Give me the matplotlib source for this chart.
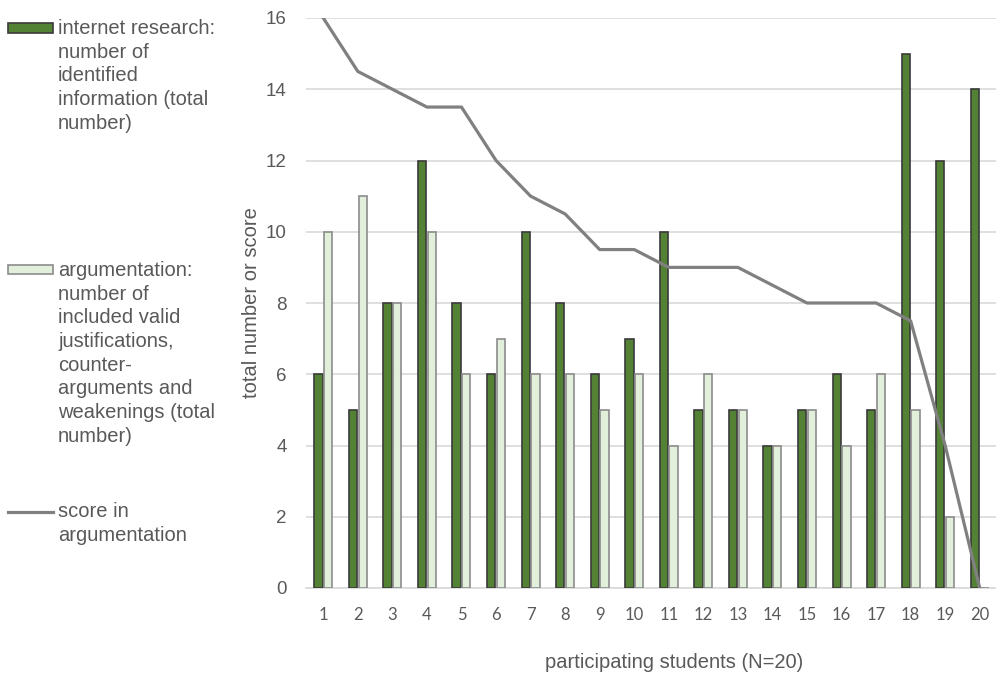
import numpy as np
import matplotlib.pyplot as plt
from matplotlib.patches import Rectangle
from matplotlib.lines import Line2D

plt.rcParams['font.family'] = ['Liberation Sans', 'DejaVu Sans']

# data
students = list(range(1, 21))
internet = [6, 5, 8, 12, 8, 6, 10, 8, 6, 7, 10, 5, 5, 4, 5, 6, 5, 15, 12, 14]
argumentation = [10, 11, 8, 10, 6, 7, 6, 6, 5, 6, 4, 6, 5, 4, 5, 4, 6, 5, 2, 0]
score = [16, 14.5, 14, 13.5, 13.5, 12, 11, 10.5, 9.5, 9.5, 9, 9, 9, 8.5, 8, 8, 8, 7.5, 4, 0]

label_internet = "internet research:\nnumber of\nidentified\ninformation (total\nnumber)"
label_arg = "argumentation:\nnumber of\nincluded valid\njustifications,\ncounter-\narguments and\nweakenings (total\nnumber)"
label_score = "score in\nargumentation"

dark_green = '#548235'
light_green = '#E2EFDA'
grey_line = '#808080'
text_col = '#595959'

W, H = 996, 680
fig = plt.figure(figsize=(W / 100, H / 100), dpi=100)
ax = fig.add_axes([306 / W, 1 - 588 / H, (997 - 306) / W, (588 - 18) / H])

x = np.array(students)
w = 0.24
ax.bar(x - 0.14, internet, width=w, color=dark_green, edgecolor='#3a3a3a', linewidth=1.2, zorder=3)
ax.bar(x + 0.14, argumentation, width=w, color=light_green, edgecolor='#8c8c8c', linewidth=1.2, zorder=3)
ax.plot(x, score, color=grey_line, linewidth=2.3, zorder=4)

ax.set_xlim(0.5, 20.5)
ax.set_ylim(0, 16)
ax.set_yticks(range(0, 17, 2))
ax.set_xticks(students)
ax.grid(axis='y', color='#d9d9d9', linewidth=1.2, zorder=0)
for s in ['top', 'right', 'left']:
    ax.spines[s].set_visible(False)
ax.spines['bottom'].set_color('#d9d9d9')
ax.spines['bottom'].set_linewidth(1.2)
ax.tick_params(axis='both', length=0, colors=text_col)
ax.tick_params(axis='y', labelsize=13.5, pad=14)
ax.tick_params(axis='x', labelsize=12, pad=14)
for t in ax.get_xticklabels():
    t.set_fontfamily(['Lato', 'DejaVu Sans'])

ax.set_ylabel("total number or score", fontsize=14.5, color=text_col, labelpad=3.5)
ax.set_xlabel("participating students (N=20)", fontsize=14.5, color=text_col)
# x label sits a bit right of the axes centre in the original
ax.xaxis.set_label_coords((674 - 306) / 691, -(662 - 588) / 570)
ax.xaxis.label.set_verticalalignment('center')

# legend drawn by hand on the left (pixel positions from the reference)
def fx(px):
    return px / W

def fy(py):
    return 1 - py / H

fig.add_artist(Rectangle((fx(8), fy(33)), fx(45), 10 / H, transform=fig.transFigure,
                         facecolor=dark_green, edgecolor='#3a3a3a', linewidth=1.2))
fig.add_artist(Rectangle((fx(8), fy(274)), fx(45), 9 / H, transform=fig.transFigure,
                         facecolor=light_green, edgecolor='#8c8c8c', linewidth=1.2))
fig.add_artist(Line2D([fx(8), fx(53)], [fy(512), fy(512)], transform=fig.transFigure,
                      color=grey_line, linewidth=2.3))

for lab, top in [(label_internet, 19), (label_arg, 261), (label_score, 502)]:
    fig.text(fx(58), fy(top), lab, fontsize=14.5, color=text_col, va='top', ha='left',
             linespacing=1.31)

fig.savefig("out.png", dpi=100)
